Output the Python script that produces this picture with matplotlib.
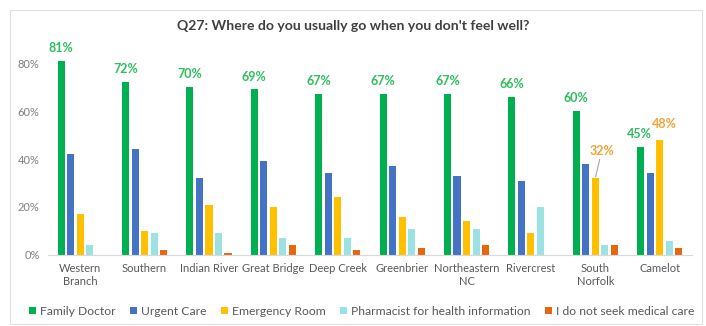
import matplotlib.pyplot as plt
import numpy as np
from matplotlib.patches import Rectangle

plt.rcParams['font.family'] = ['Lato', 'DejaVu Sans']

# Data (percent)
sites = ['Western\nBranch', 'Southern', 'Indian River', 'Great Bridge', 'Deep Creek',
         'Greenbrier', 'Northeastern\nNC', 'Rivercrest', 'South\nNorfolk', 'Camelot']
family_doctor = [81, 72, 70, 69, 67, 67, 67, 66, 60, 45]
urgent_care = [42, 44, 32, 39, 34, 37, 33, 31, 38, 34]
emergency_room = [17, 10, 21, 20, 24, 16, 14, 9, 32, 48]
pharmacist = [4, 9, 9, 7, 7, 11, 11, 20, 4, 6]
no_care = [0, 2, 1, 4, 2, 3, 4, 0, 4, 3]

series = [
    ('Family Doctor', family_doctor, '#00B050'),
    ('Urgent Care', urgent_care, '#4472C4'),
    ('Emergency Room', emergency_room, '#FFC000'),
    ('Pharmacist for health information', pharmacist, '#9BE3E3'),
    ('I do not seek medical care', no_care, '#E8660E'),
]

fig = plt.figure(figsize=(7.06, 3.26), dpi=100)
ax = fig.add_axes([0.068, 0.218, 0.912, 0.662])

x = np.arange(len(sites))
stride = 0.148
width = 0.11
bars = []
for i, (name, vals, col) in enumerate(series):
    b = ax.bar(x + (i - 2) * stride, vals, width, color=col, label=name)
    bars.append(b)

# green data labels
green = '#2DBE5E'
for i, v in enumerate(family_doctor):
    dx = -0.02 if i == 9 else 0
    ax.annotate(f'{v}%', (x[i] - 2 * stride + dx, v), xytext=(0, 5),
                textcoords='offset points', ha='center', va='bottom',
                color=green, fontsize=9, fontweight='bold')

orange = '#F5A234'
# South Norfolk ER label with leader line
ax.annotate(f'{emergency_room[8]}%', (x[8], emergency_room[8]), xytext=(x[8] + 0.1, 41),
            textcoords='data', ha='center', va='bottom', color=orange,
            fontsize=9, fontweight='bold',
            arrowprops=dict(arrowstyle='-', color='#A6A6A6', lw=0.8,
                            shrinkA=0, shrinkB=1))
# Camelot ER label
ax.annotate(f'{emergency_room[9]}%', (x[9], emergency_room[9]), xytext=(3, 7),
            textcoords='offset points', ha='center', va='bottom', color=orange,
            fontsize=9, fontweight='bold')

ax.set_xlim(-0.5, len(sites) - 0.5)
ax.set_ylim(0, 90)
ax.set_yticks([0, 20, 40, 60, 80])
ax.set_yticklabels(['0%', '20%', '40%', '60%', '80%'])
ax.set_xticks(x)
ax.set_xticklabels(sites)
ax.tick_params(axis='y', length=0, labelsize=8, colors='#7F7F7F', pad=6)
ax.tick_params(axis='x', length=0, labelsize=8, colors='#595959', pad=6)
for s in ['top', 'right', 'left']:
    ax.spines[s].set_visible(False)
ax.spines['bottom'].set_color('#D9D9D9')

fig.text(0.5, 0.92, "Q27: Where do you usually go when you don't feel well?",
         ha='center', va='center', fontsize=10.1, fontweight='bold', color='#404040')

leg = fig.legend(handles=bars, loc='center', bbox_to_anchor=(0.512, 0.045), ncol=5,
                 frameon=False, fontsize=8.7, handlelength=0.6, handleheight=0.6,
                 handletextpad=0.3, columnspacing=1.2, borderpad=0.2)
for t in leg.get_texts():
    t.set_color('#595959')

fig.patches.append(Rectangle((0.014, 0.005), 0.98, 0.965, transform=fig.transFigure,
                             fill=False, edgecolor='#E0E0E0', lw=0.8))

plt.savefig('out.png', dpi=100)
